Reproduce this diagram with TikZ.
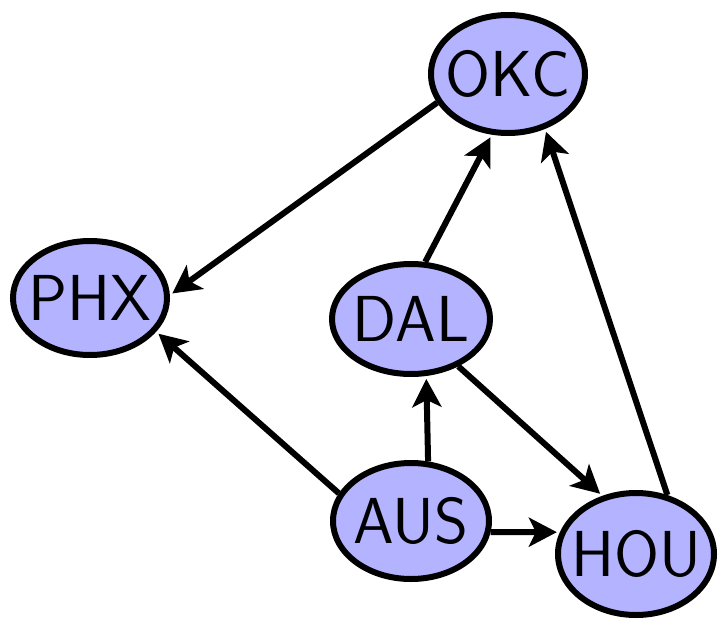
\documentclass[tikz,border=0pt]{standalone}
\usetikzlibrary{shapes.geometric,arrows.meta}
\definecolor{cityfill}{RGB}{179,179,255}
\begin{document}
\begin{tikzpicture}[x=1pt,y=-1pt,
  city/.style={ellipse,draw=black,line width=6pt,fill=cityfill,
    inner xsep=-12pt,inner ysep=-4pt,
    font=\sffamily\fontsize{65}{65}\selectfont},
  route/.style={line width=6pt,
    -{Stealth[length=28pt 0,width=29pt 0,inset=7pt 0]},shorten >=3pt}]
\useasboundingbox (0,0) rectangle (718,621);
% cities
\node[city,minimum width=154pt,minimum height=118pt] (okc) at (508,74) {OKC};
\node[city,minimum width=154pt,minimum height=114pt] (phx) at (90,298) {PHX};
\node[city,minimum width=158pt,minimum height=110pt] (dal) at (411,319) {DAL};
\node[city,minimum width=156pt,minimum height=116pt] (aus) at (411,521) {AUS};
\node[city,minimum width=156pt,minimum height=122pt] (hou) at (636,554) {HOU};
% routes
\draw[route] (okc.202) -- (phx.2);
\draw[route] (aus.159) -- (phx.-27);
\draw[route] (dal.76) -- (okc.-105);
\draw[route] (hou.62) -- (okc.-56);
\draw[route] (aus.74) -- (dal.-75);
\draw[route] (dal.-45) -- (hou.120);
\draw[route] (aus.-8) -- (hou.164);
\end{tikzpicture}
\end{document}
